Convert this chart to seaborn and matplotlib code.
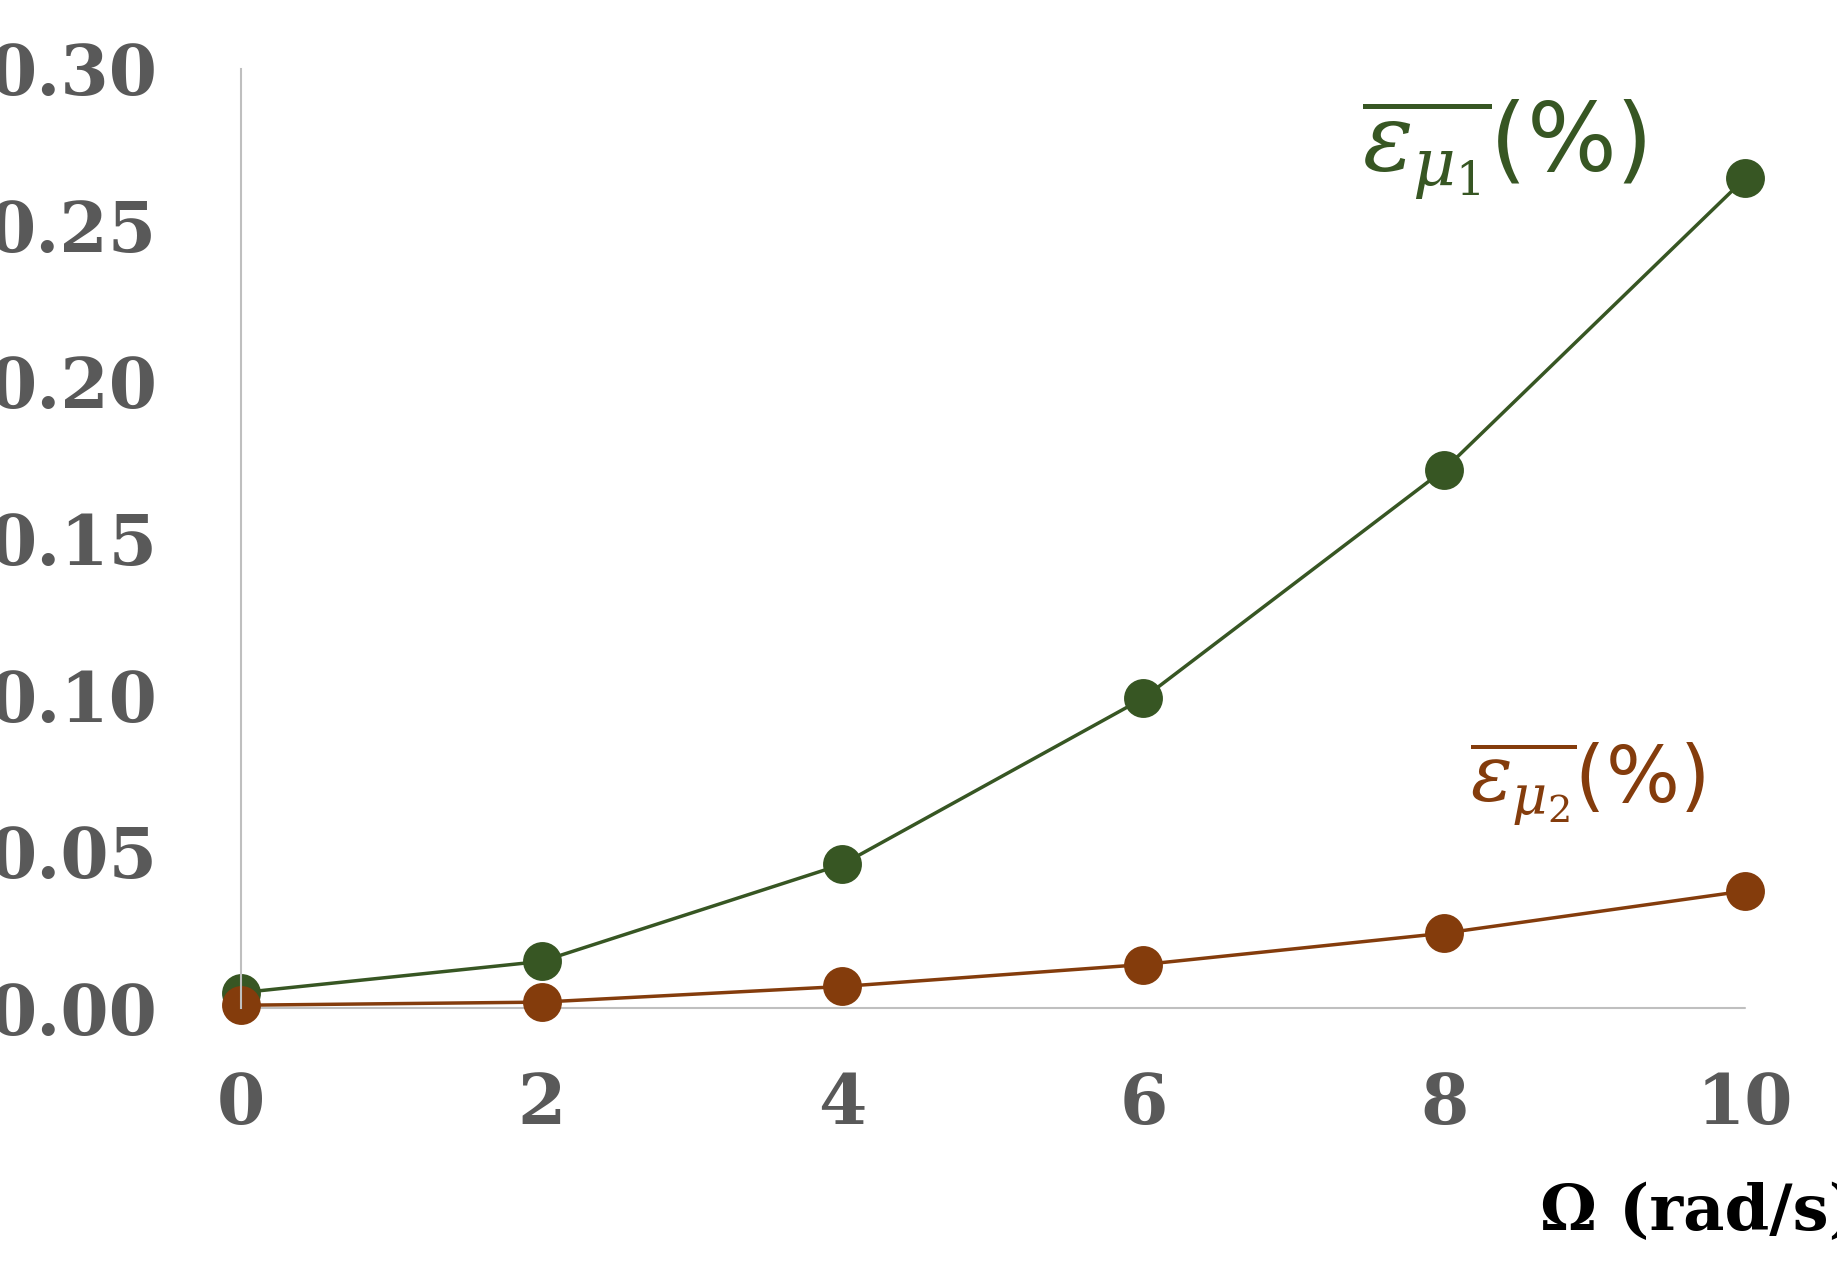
import matplotlib
matplotlib.use("Agg")
import matplotlib.pyplot as plt
import seaborn as sns
import pandas as pd

# data
omega = [0, 2, 4, 6, 8, 10]
eps_mu1 = [0.005, 0.015, 0.046, 0.099, 0.172, 0.265]
eps_mu2 = [0.001, 0.002, 0.007, 0.014, 0.024, 0.0375]
y_ticks = [0.00, 0.05, 0.10, 0.15, 0.20, 0.25, 0.30]

green = '#375623'
brown = '#843C0C'
grey = '#595959'

sns.set_theme(style="white")
plt.rcParams['font.family'] = ['Liberation Serif', 'DejaVu Serif']
plt.rcParams['mathtext.fontset'] = 'dejavuserif'

df = pd.DataFrame({'omega': omega, 'mu1': eps_mu1, 'mu2': eps_mu2})

fig = plt.figure(figsize=(18.37, 12.7), dpi=100)
ax = fig.add_axes([0.131, 0.206, 0.819, 0.74])

sns.lineplot(data=df, x='omega', y='mu1', ax=ax, color=green, lw=2.5,
             marker='o', markersize=28, markeredgewidth=0)
sns.lineplot(data=df, x='omega', y='mu2', ax=ax, color=brown, lw=2.5,
             marker='o', markersize=28, markeredgewidth=0)

ax.set_xlim(0, 10)
ax.set_ylim(0, 0.30)
ax.set_xticks(omega)
ax.set_yticks(y_ticks)
ax.set_yticklabels([f'{v:.2f}' for v in y_ticks])
ax.axhline(0, color='#BFBFBF', lw=1.5, zorder=0)
for s in ['top', 'right', 'bottom']:
    ax.spines[s].set_visible(False)
ax.spines['left'].set_color('#BFBFBF')
ax.spines['left'].set_linewidth(1.5)
ax.tick_params(axis='y', length=0, labelsize=60, labelcolor=grey, pad=60)
ax.tick_params(axis='x', length=0, labelsize=60, labelcolor=grey, pad=45)
for lab in ax.get_xticklabels() + ax.get_yticklabels():
    lab.set_fontweight('bold')
    lab.set_family(['DejaVu Serif'])
    lab.set_fontsize(50)
ax.set_xlabel('')
ax.set_ylabel('')
for p in ax.lines:
    p.set_clip_on(False)

ax.text(8.4, 0.274, r'$\overline{\varepsilon_{\mu_1}}$(%)', color=green,
        fontsize=68, ha='center', va='center', family=['DejaVu Sans'])
ax.text(8.95, 0.072, r'$\overline{\varepsilon_{\mu_2}}$(%)', color=brown,
        fontsize=56, ha='center', va='center', family=['DejaVu Sans'])

fig.text(0.925, 0.045, 'Ω (rad/s)', fontsize=46, fontweight='bold',
         color='black', ha='center', va='center', family=['DejaVu Serif'])

fig.savefig('out.png', dpi=100)
